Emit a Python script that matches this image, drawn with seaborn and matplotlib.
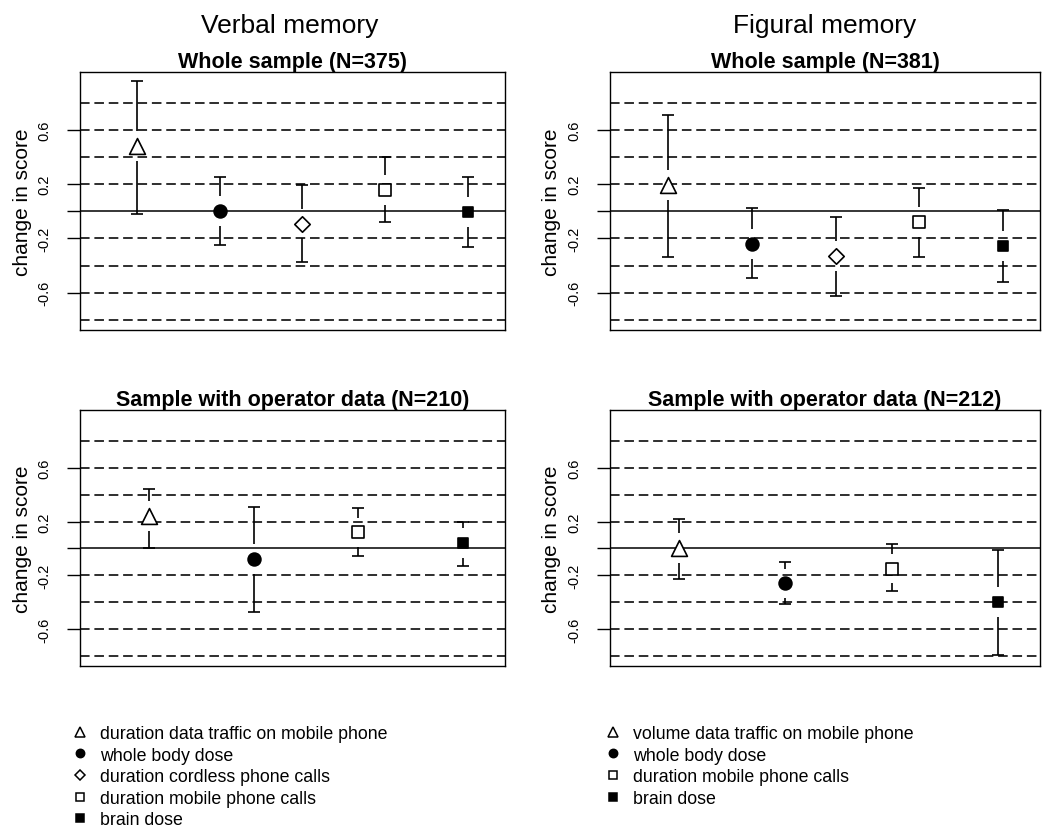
import numpy as np
import pandas as pd
import matplotlib
matplotlib.use('Agg')
import matplotlib.pyplot as plt
from matplotlib.lines import Line2D
import seaborn as sns

sns.set_theme(style='white')
plt.rcParams['font.family'] = ['Liberation Sans', 'DejaVu Sans']
plt.rcParams['axes.edgecolor'] = 'black'
plt.rcParams['text.color'] = 'black'
plt.rcParams['axes.labelcolor'] = 'black'
plt.rcParams['ytick.color'] = 'black'

# ==================== data ====================
# exposure types (marker key) per panel
verbal_types = ['traffic', 'body', 'cordless', 'mobile', 'brain']
figural_types = ['traffic', 'body', 'cordless', 'mobile', 'brain']
verbal_op_types = ['traffic', 'body', 'mobile', 'brain']
figural_op_types = ['traffic', 'body', 'mobile', 'brain']

# Verbal memory, whole sample (N=375)
verbal_whole_est = [0.48, 0.00, -0.09, 0.155, -0.005]
verbal_whole_lo = [-0.02, -0.245, -0.37, -0.08, -0.265]
verbal_whole_hi = [0.965, 0.255, 0.195, 0.40, 0.25]

# Figural memory, whole sample (N=381)
figural_whole_est = [0.195, -0.24, -0.33, -0.08, -0.255]
figural_whole_lo = [-0.335, -0.495, -0.625, -0.335, -0.52]
figural_whole_hi = [0.71, 0.025, -0.04, 0.17, 0.01]

# Verbal memory, operator data (N=210)
verbal_op_est = [0.24, -0.08, 0.12, 0.04]
verbal_op_lo = [0.0, -0.475, -0.06, -0.13]
verbal_op_hi = [0.445, 0.31, 0.30, 0.20]

# Figural memory, operator data (N=212)
figural_op_est = [0.005, -0.26, -0.15, -0.40]
figural_op_lo = [-0.225, -0.415, -0.32, -0.79]
figural_op_hi = [0.22, -0.10, 0.03, -0.01]

verbal_legend = ['duration data traffic on mobile phone', 'whole body dose',
                 'duration cordless phone calls', 'duration mobile phone calls',
                 'brain dose']
verbal_legend_types = ['traffic', 'body', 'cordless', 'mobile', 'brain']
figural_legend = ['volume data traffic on mobile phone', 'whole body dose',
                  'duration mobile phone calls', 'brain dose']
figural_legend_types = ['traffic', 'body', 'mobile', 'brain']

# marker, filled, scatter size, legend size
marker_style = {
    'traffic': ('^', False, 130, 6.5),
    'body': ('o', True, 85, 6.0),
    'cordless': ('D', False, 62, 5.2),
    'mobile': ('s', False, 80, 5.8),
    'brain': ('s', True, 62, 5.5),
}

# ==================== layout ====================
W, H = 1043, 828
fig = plt.figure(figsize=(W / 100, H / 100), dpi=100)


def rect(l, r, t, b):
    return [l / W, 1 - b / H, (r - l) / W, (b - t) / H]


panels = [
    dict(rect=rect(80, 505, 72.7, 331), title='Whole sample (N=375)', types=verbal_types,
         est=verbal_whole_est, lo=verbal_whole_lo, hi=verbal_whole_hi, xlim=(0.31, 5.45)),
    dict(rect=rect(610, 1040, 72.7, 331), title='Whole sample (N=381)', types=figural_types,
         est=figural_whole_est, lo=figural_whole_lo, hi=figural_whole_hi, xlim=(0.307, 5.44)),
    dict(rect=rect(80, 505, 411, 667), title='Sample with operator data (N=210)', types=verbal_op_types,
         est=verbal_op_est, lo=verbal_op_lo, hi=verbal_op_hi, xlim=(0.34, 4.40)),
    dict(rect=rect(610, 1040, 411, 667), title='Sample with operator data (N=212)', types=figural_op_types,
         est=figural_op_est, lo=figural_op_lo, hi=figural_op_hi, xlim=(0.35, 4.395)),
]

gap = 0.11  # space between point and whisker start (R plotCI style)

for p in panels:
    ax = fig.add_axes(p['rect'])
    df = pd.DataFrame({'pos': np.arange(1, len(p['est']) + 1), 'est': p['est'],
                       'lo': p['lo'], 'hi': p['hi'], 'type': p['types']})

    # reference lines
    for yv in np.arange(-0.8, 0.81, 0.2):
        if abs(yv) < 1e-9:
            ax.axhline(0, color='black', lw=1.1, zorder=1)
        else:
            ax.axhline(yv, color='black', lw=1.15, ls=(0, (6, 3)), zorder=1)

    # error bars with a gap around the point
    for _, r in df.iterrows():
        if r.hi - r.est > gap:
            ax.vlines(r.pos, r.est + gap, r.hi, color='black', lw=1.2, zorder=2)
        if r.est - r.lo > gap:
            ax.vlines(r.pos, r.lo, r.est - gap, color='black', lw=1.2, zorder=2)
        ax.plot([r.pos, r.pos], [r.lo, r.hi], ls='none', marker='_', ms=9,
                mew=1.2, color='black', zorder=2)

    # points
    for t, sub in df.groupby('type', sort=False):
        m, filled, s, _ = marker_style[t]
        sns.scatterplot(data=sub, x='pos', y='est', marker=m, s=s,
                        color='black' if filled else 'white',
                        edgecolor='black', linewidth=1.2, ax=ax, zorder=3,
                        legend=False)

    ax.set_xlim(*p['xlim'])
    ax.set_ylim(-0.875, 1.03)
    ax.set_xticks([])
    ax.set_xlabel('')
    ax.set_yticks([-0.6, -0.2, 0, 0.2, 0.6])
    ax.set_yticklabels(['-0.6', '-0.2', '', '0.2', '0.6'], fontsize=10.5)
    for lab in ax.get_yticklabels():
        lab.set_rotation(90)
        lab.set_va('center')
    ax.tick_params(axis='y', direction='out', length=9.5, width=1.0, pad=11,
                   left=True, colors='black')
    ax.set_ylabel('change in score', fontsize=15, va='center')
    ax.yaxis.set_label_coords(-0.135, 0.5)
    ax.set_title(p['title'], fontsize=15.5, fontweight='bold', pad=3)
    for sp in ax.spines.values():
        sp.set_linewidth(1.0)
        sp.set_color('black')

fig.text(290 / W, 1 - 26 / H, 'Verbal memory', fontsize=19, ha='center', va='center')
fig.text(825 / W, 1 - 26 / H, 'Figural memory', fontsize=19, ha='center', va='center')


def make_handles(types):
    hs = []
    for t in types:
        m, filled, _, ms = marker_style[t]
        hs.append(Line2D([], [], ls='none', marker=m, ms=ms, mec='black', mew=1.1,
                         mfc='black' if filled else 'white'))
    return hs


leg_kw = dict(loc='upper left', frameon=False, fontsize=12.8, handlelength=0.8,
              handletextpad=0.7, labelspacing=0.26, borderpad=0, borderaxespad=0)
fig.legend(make_handles(verbal_legend_types), verbal_legend,
           bbox_to_anchor=(73 / W, 1 - 726 / H), **leg_kw)
fig.legend(make_handles(figural_legend_types), figural_legend,
           bbox_to_anchor=(606 / W, 1 - 726 / H), **leg_kw)

fig.savefig('out.png', dpi=100)
